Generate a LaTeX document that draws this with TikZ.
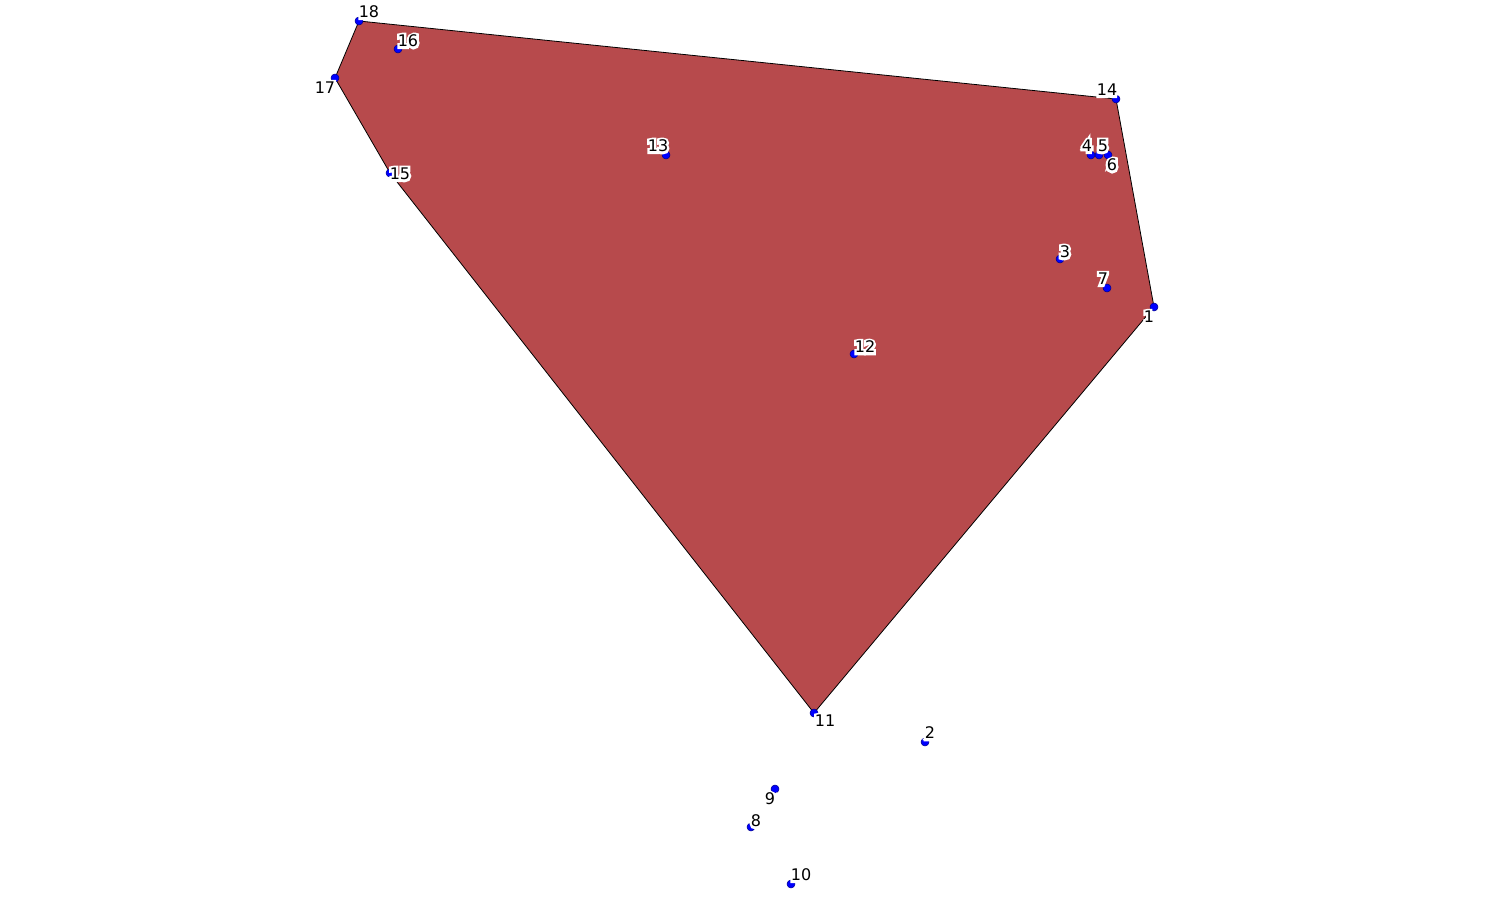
\documentclass[tikz,border=0pt]{standalone}
\usepackage{fontspec}
\setmainfont{DejaVu Sans}
\newfontfamily\halofont[FakeBold=30]{DejaVu Sans}
\usetikzlibrary{calc}
\tikzset{every picture/.style={line width=0.75pt}}
\definecolor{hullred}{RGB}{183,74,76}
\tikzset{
  pt/.style={circle,inner sep=0pt,minimum size=6pt,fill=blue,draw={rgb,255:red,0;green,0;blue,140},line width=0.4pt},
  lbl/.style={inner sep=0.75pt,font=\fontsize{12}{14}\selectfont},
  halo/.style={lbl,text=white,font=\fontsize{12}{14}\halofont}
}
% label with a white halo round the digits
\newcommand{\halolabel}[3]{%
  \node [halo] at (#2) {#3};
  \node [lbl] (#1) at (#2) {#3};
}

\begin{document}
\begin{tikzpicture}[x=0.75pt,y=0.75pt,yscale=-1,xscale=1]
\useasboundingbox (0,0) rectangle (1490,906);

% point positions
\foreach \i/\x/\y in {1/1154/307,2/925/742,3/1060/259,4/1091/155,5/1099/155,6/1108/155,7/1107/288,8/751/827,9/775/789,10/791/884,11/814/713,12/854/354,13/666/155,14/1116/99,15/390/173,16/398/49,17/335/78,18/359/21}
  \coordinate (c\i) at (\x,\y);

%Shape: hull
\draw [fill=hullred,line width=0.6pt] (c18) -- (c14) -- (c1) -- (c11) -- (c15) -- (c17) -- cycle ;

% points
\foreach \i in {1,...,18}
  \node [pt] (p\i) at (c\i) {};

% Text Node
\halolabel{l1}{1149,317}{1}
\halolabel{l2}{930,733}{2}
\halolabel{l3}{1065,252}{3}
\halolabel{l4}{1087,146}{4}
\halolabel{l5}{1103,146}{5}
\halolabel{l6}{1112,165}{6}
\halolabel{l7}{1103,279}{7}
\halolabel{l8}{756,821}{8}
\halolabel{l9}{770,799}{9}
\halolabel{l10}{801,875}{10}
\halolabel{l11}{825,721}{11}
\halolabel{l12}{865,347}{12}
\halolabel{l13}{658,146}{13}
\halolabel{l14}{1107,90}{14}
\halolabel{l15}{400,174}{15}
\halolabel{l16}{408,41}{16}
\halolabel{l17}{325,88}{17}
\halolabel{l18}{369,12}{18}

\end{tikzpicture}
\end{document}
